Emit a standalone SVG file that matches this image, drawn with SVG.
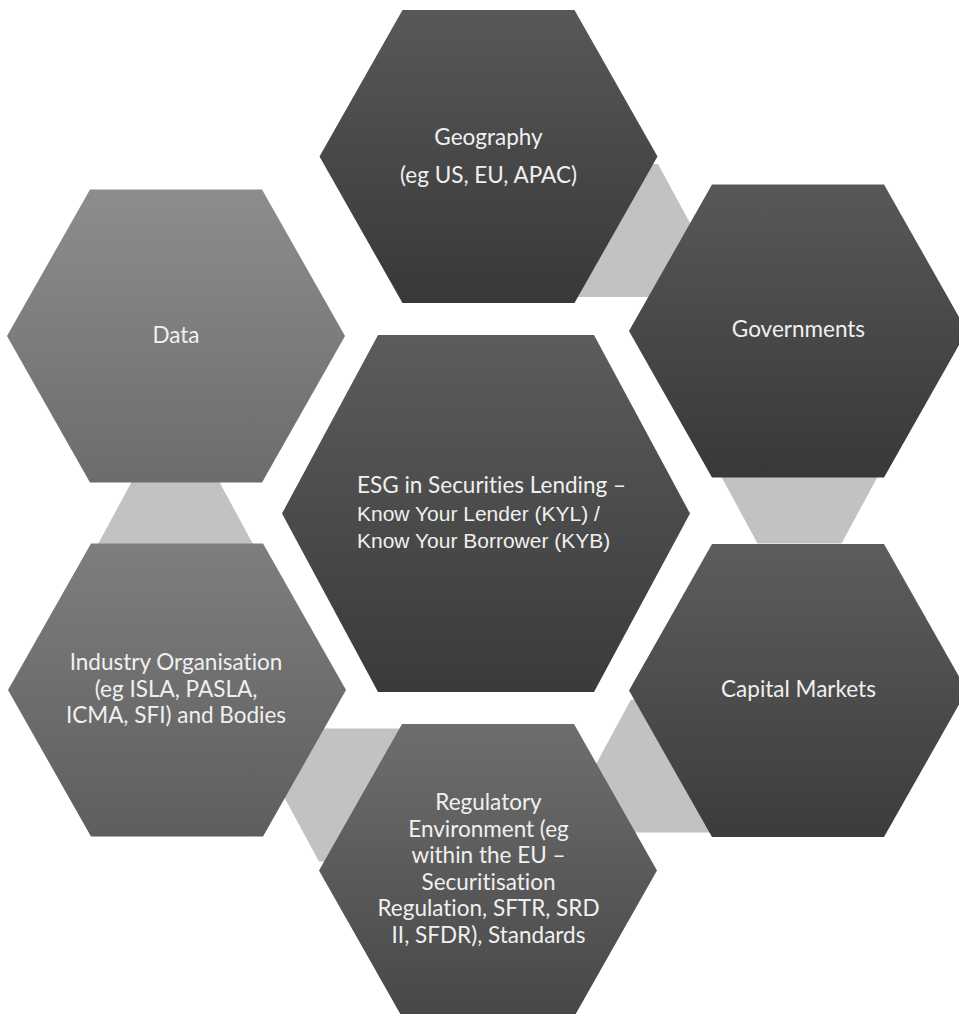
<svg xmlns="http://www.w3.org/2000/svg" xmlns:xlink="http://www.w3.org/1999/xlink" width="959" height="1014" viewBox="0 0 959 1014">
<defs>
<style>
.t{font-family:Lato,"Open Sans","Liberation Sans",sans-serif;font-size:22.5px;fill:#f0f0f0;text-anchor:middle;font-variant-ligatures:none}
.ta{font-family:"Liberation Sans",Arial,sans-serif;font-size:21px;fill:#f0f0f0}
.tl{font-family:Lato,"Open Sans","Liberation Sans",sans-serif;font-size:22.5px;fill:#f0f0f0;font-variant-ligatures:none}
.con{fill:#c2c2c2}
</style>
<polygon id="hex" points="-169,0 -86,-146.5 86,-146.5 169,0 86,146.5 -86,146.5"/>
<polygon id="hexc" points="-204,0 -108,-178.5 108,-178.5 204,0 108,178.5 -108,178.5"/>
<polygon id="hexs" points="-78,0 -42,-66.5 42,-66.5 78,0 42,66.5 -42,66.5"/>
<linearGradient id="gDark" x1="0" y1="0" x2="0" y2="1"><stop offset="0" stop-color="#585858"/><stop offset="1" stop-color="#383838"/></linearGradient>
<linearGradient id="gCenter" x1="0" y1="0" x2="0" y2="1"><stop offset="0" stop-color="#5c5c5c"/><stop offset="1" stop-color="#3a3a3a"/></linearGradient>
<linearGradient id="gCap" x1="0" y1="0" x2="0" y2="1"><stop offset="0" stop-color="#5d5d5d"/><stop offset="1" stop-color="#3c3c3c"/></linearGradient>
<linearGradient id="gData" x1="0" y1="0" x2="0" y2="1"><stop offset="0" stop-color="#8d8d8d"/><stop offset="1" stop-color="#6c6c6c"/></linearGradient>
<linearGradient id="gInd" x1="0" y1="0" x2="0" y2="1"><stop offset="0" stop-color="#7e7e7e"/><stop offset="1" stop-color="#5e5e5e"/></linearGradient>
<linearGradient id="gReg" x1="0" y1="0" x2="0" y2="1"><stop offset="0" stop-color="#6e6e6e"/><stop offset="1" stop-color="#474747"/></linearGradient>
</defs>
<rect width="959" height="1014" fill="#ffffff"/>
<g id="connectors">
<use xlink:href="#hexs" class="con" transform="translate(616,230.5)"/>
<use xlink:href="#hexs" class="con" transform="translate(799.5,477)"/>
<use xlink:href="#hexs" class="con" transform="translate(673,766)"/>
<use xlink:href="#hexs" class="con" transform="translate(361,795)"/>
<use xlink:href="#hexs" class="con" transform="translate(175.5,545)"/>
</g>
<g id="geography">
<use xlink:href="#hex" fill="url(#gDark)" transform="translate(488.5,156.5)"/>
<text class="t" x="488.5" y="145">Geography</text>
<text class="t" x="488.5" y="183">(eg US, EU, APAC)</text>
</g>
<g id="data">
<use xlink:href="#hex" fill="url(#gData)" transform="translate(176,336)"/>
<text class="t" x="176" y="343">Data</text>
</g>
<g id="governments">
<use xlink:href="#hex" fill="url(#gDark)" transform="translate(798,331)"/>
<text class="t" x="798.5" y="337">Governments</text>
</g>
<g id="center">
<use xlink:href="#hexc" fill="url(#gCenter)" transform="translate(486,513.5)"/>
<text class="tl" x="357" y="493">ESG in Securities Lending –</text>
<text class="ta" x="357" y="521">Know Your Lender (KYL) /</text>
<text class="ta" x="357" y="548">Know Your Borrower (KYB)</text>
</g>
<g id="industry">
<use xlink:href="#hex" fill="url(#gInd)" transform="translate(177,690)"/>
<text class="t" x="176" y="670">Industry Organisation</text>
<text class="t" x="176" y="696.5">(eg ISLA, PASLA,</text>
<text class="t" x="176" y="723">ICMA, SFI) and Bodies</text>
</g>
<g id="capital">
<use xlink:href="#hex" fill="url(#gCap)" transform="translate(798,690.5)"/>
<text class="t" x="798.5" y="697">Capital Markets</text>
</g>
<g id="regulatory">
<use xlink:href="#hex" fill="url(#gReg)" transform="translate(488,870.5)"/>
<text class="t" x="488.5" y="810">Regulatory</text>
<text class="t" x="488.5" y="836.6">Environment (eg</text>
<text class="t" x="488.5" y="863.2">within the EU –</text>
<text class="t" x="488.5" y="889.8">Securitisation</text>
<text class="t" x="488.5" y="916.4">Regulation, SFTR, SRD</text>
<text class="t" x="488.5" y="943">II, SFDR), Standards</text>
</g>
</svg>
